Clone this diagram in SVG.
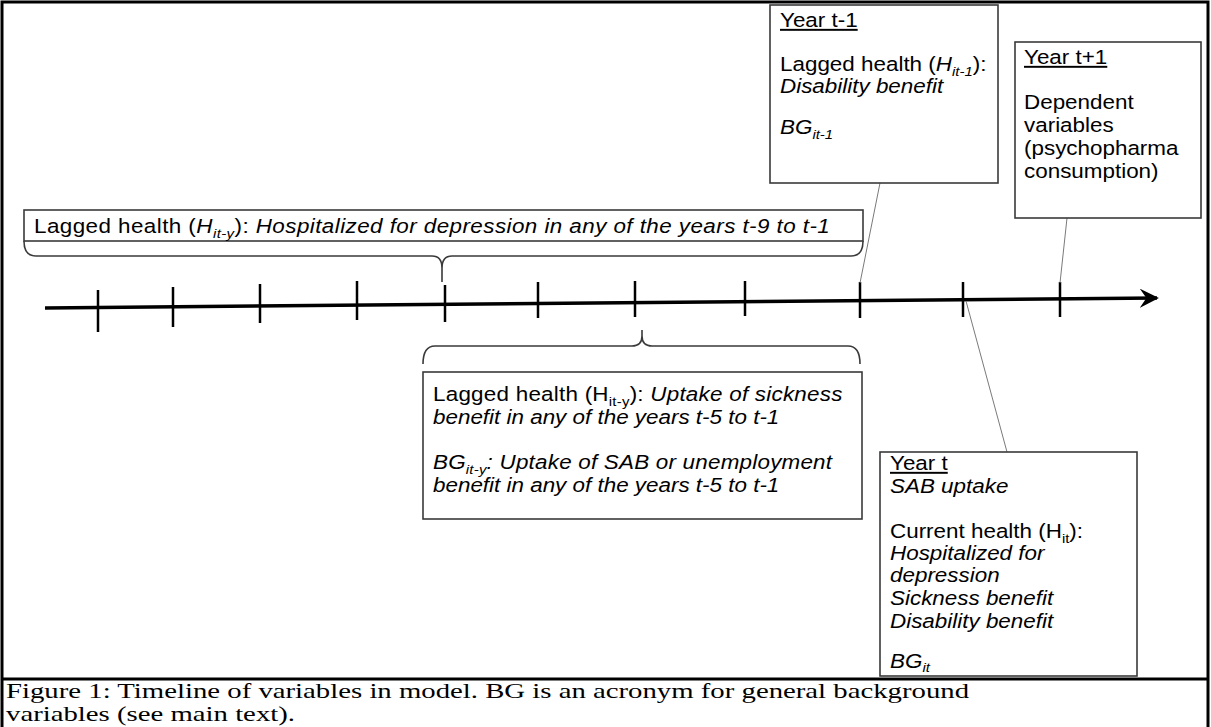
<svg xmlns="http://www.w3.org/2000/svg" width="1211" height="727" viewBox="0 0 1211 727">
<defs>
<style>
.t{font-family:"Liberation Sans",Arial,sans-serif;font-size:19.5px;fill:#000}
.i{font-style:italic}
.s{font-size:13px}
.box{fill:#fff;stroke:#3a3a3a;stroke-width:1.6}
.br{fill:none;stroke:#3a3a3a;stroke-width:1.6}
.cn{fill:none;stroke:#7a7a7a;stroke-width:1}
.cap{font-family:"Liberation Serif","Times New Roman",serif;font-size:21px;fill:#000}
</style>
<marker id="ah" viewBox="0 0 10 10" refX="9" refY="5" markerWidth="5.5" markerHeight="5.5" orient="auto" markerUnits="strokeWidth">
<path d="M0,0 L10,5 L0,10 L3.5,5 Z" fill="#000"/>
</marker>
</defs>
<rect x="0" y="0" width="1211" height="727" fill="#fff"/>
<g id="frame">
<rect x="2" y="2" width="1206" height="740" fill="none" stroke="#000" stroke-width="3"/>
<line x1="2" y1="679" x2="1208" y2="679" stroke="#000" stroke-width="3"/>
</g>
<g id="timeline">
<line x1="45" y1="308" x2="1157" y2="298" stroke="#000" stroke-width="3.5" marker-end="url(#ah)"/>
<g stroke="#000" stroke-width="2.5">
<line x1="98" y1="290" x2="98" y2="332"/>
<line x1="173" y1="287" x2="173" y2="327"/>
<line x1="260" y1="284" x2="260" y2="323"/>
<line x1="357" y1="281" x2="357" y2="320"/>
<line x1="445" y1="285" x2="445" y2="322"/>
<line x1="538" y1="282" x2="538" y2="318"/>
<line x1="635" y1="281" x2="635" y2="317"/>
<line x1="745" y1="281" x2="745" y2="316"/>
<line x1="860" y1="282" x2="860" y2="318"/>
<line x1="963" y1="282" x2="963" y2="317"/>
<line x1="1060" y1="282" x2="1060" y2="317"/>
</g>
</g>
<g id="connectors">
<line class="cn" x1="880" y1="183" x2="860" y2="283"/>
<line class="cn" x1="1067" y1="218" x2="1060" y2="283"/>
<line class="cn" x1="966" y1="301" x2="1007" y2="452"/>
<path class="br" d="M24,241 Q24,256 36,256 L432,256 Q442,256 442,268 L442,282 M442,268 Q442,256 452,256 L851,256 Q863,256 863,241"/>
<path class="br" d="M423,364 Q423,346 435,346 L632,346 Q642,346 642,336 L642,330 M642,336 Q642,346 652,346 L848,346 Q860,346 860,364"/>
</g>
<g id="box-long">
<rect class="box" x="24" y="210" width="839" height="31"/>
<g transform="translate(34,0) scale(1.15,1)">
<text class="t" x="0" y="233" textLength="692" lengthAdjust="spacing">Lagged health (<tspan class="i">H</tspan><tspan class="i s" dy="5">it-y</tspan><tspan dy="-5">): </tspan><tspan class="i">Hospitalized for depression in any of the years t-9 to t-1</tspan></text>
</g>
</g>
<g id="box-year-t-1">
<rect class="box" x="770" y="5" width="228" height="178"/>
<g transform="translate(780,0) scale(1.15,1)">
<text class="t" x="0" y="27" text-decoration="underline">Year  t-1</text>
<text class="t" x="0" y="71">Lagged health (<tspan class="i">H</tspan><tspan class="i s" dy="5">it-1</tspan><tspan dy="-5">):</tspan></text>
<text class="t i" x="0" y="93">Disability benefit</text>
<text class="t i" x="0" y="134">BG<tspan class="s" dy="5">it-1</tspan></text>
</g>
</g>
<g id="box-year-t+1">
<rect class="box" x="1015" y="42" width="186" height="176"/>
<g transform="translate(1024,0) scale(1.15,1)">
<text class="t" x="0" y="64" text-decoration="underline">Year  t+1</text>
<text class="t" x="0" y="109">Dependent</text>
<text class="t" x="0" y="132">variables</text>
<text class="t" x="0" y="155">(psychopharma</text>
<text class="t" x="0" y="178">consumption)</text>
</g>
</g>
<g id="box-lower">
<rect class="box" x="423" y="372" width="439" height="147"/>
<g transform="translate(433,0) scale(1.15,1)">
<text class="t" x="0" y="401" textLength="356" lengthAdjust="spacing">Lagged health (H<tspan class="s" dy="5">it-y</tspan><tspan dy="-5">): </tspan><tspan class="i">Uptake of sickness</tspan></text>
<text class="t i" x="0" y="424">benefit in any of the years t-5 to t-1</text>
<text class="t i" x="0" y="469" textLength="347" lengthAdjust="spacing">BG<tspan class="s" dy="5">it-y</tspan><tspan dy="-5">: Uptake of SAB or unemployment</tspan></text>
<text class="t i" x="0" y="492">benefit in any of the years t-5 to t-1</text>
</g>
</g>
<g id="box-year-t">
<rect class="box" x="880" y="452" width="257" height="224"/>
<g transform="translate(890,0) scale(1.15,1)">
<text class="t" x="0" y="470" text-decoration="underline">Year  t</text>
<text class="t i" x="0" y="493">SAB uptake</text>
<text class="t" x="0" y="538">Current health (H<tspan class="s" dy="5">it</tspan><tspan dy="-5">):</tspan></text>
<text class="t i" x="0" y="560">Hospitalized  for</text>
<text class="t i" x="0" y="582">depression</text>
<text class="t i" x="0" y="605">Sickness benefit</text>
<text class="t i" x="0" y="628">Disability benefit</text>
<text class="t i" x="0" y="668">BG<tspan class="s" dy="4">it</tspan></text>
</g>
</g>
<g id="caption">
<g transform="translate(6,0) scale(1.37,1)">
<text class="cap" x="0" y="698">Figure 1: Timeline of variables in model. BG is an acronym for general background</text>
<text class="cap" x="0" y="721">variables (see main text).</text>
</g>
</g>
</svg>
